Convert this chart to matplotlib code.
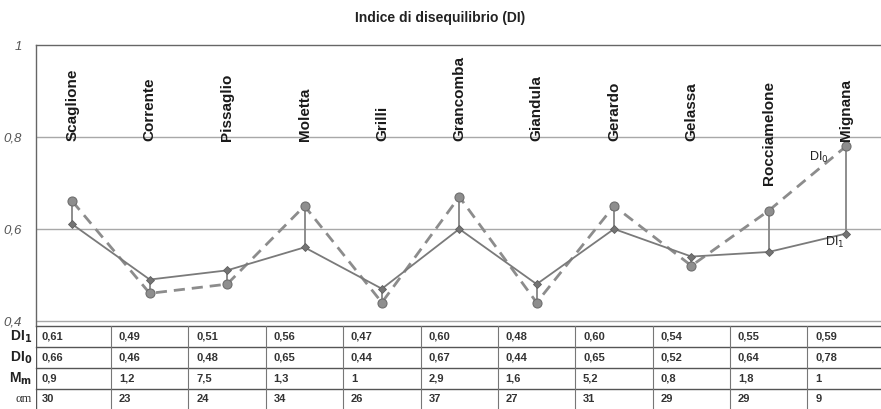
import matplotlib.pyplot as plt

plt.rcParams['font.family'] = ['Liberation Sans', 'DejaVu Sans']

# data
rivers = ["Scaglione", "Corrente", "Pissaglio", "Moletta", "Grilli", "Grancomba",
          "Giandula", "Gerardo", "Gelassa", "Rocciamelone", "Mignana"]
di1 = [0.61, 0.49, 0.51, 0.56, 0.47, 0.60, 0.48, 0.60, 0.54, 0.55, 0.59]
di0 = [0.66, 0.46, 0.48, 0.65, 0.44, 0.67, 0.44, 0.65, 0.52, 0.64, 0.78]
mm = ["0,9", "1,2", "7,5", "1,3", "1", "2,9", "1,6", "5,2", "0,8", "1,8", "1"]
am = ["30", "23", "24", "34", "26", "37", "27", "31", "29", "29", "9"]

W, H = 881, 409
fig = plt.figure(figsize=(W / 100, H / 100), dpi=100)
fig.patch.set_facecolor("white")

ax = fig.add_axes([36 / W, (H - 326) / H, 845 / W, 281 / H])
ax.set_xlim(-0.47, 10.45)
ax.set_ylim(0.389, 1.0)
x = list(range(len(rivers)))
line_col = "#858585"

# grid
for g in (0.4, 0.6, 0.8):
    ax.axhline(g, color="#a8a8a8", lw=1, zorder=0)

# vertical connectors DI0 -> DI1
for i in x:
    ax.plot([i, i], [di0[i], di1[i]], color=line_col, lw=1.3, zorder=1)

ax.plot(x, di0, color="#8c8c8c", lw=2, ls=(0, (4, 2.5)), zorder=2)
ax.plot(x, di1, color="#7a7a7a", lw=1.3, zorder=2)
ax.plot(x, di0, ls="none", marker="o", ms=6.5, mfc="#8e8e8e", mec="#6e6e6e", mew=0.8, zorder=3)
ax.plot(x, di1, ls="none", marker="D", ms=4, mfc="#747474", mec="#5e5e5e", mew=0.6, zorder=3)

# river names inside the plot
for i, name in enumerate(rivers):
    yb = 0.696 if name == "Rocciamelone" else 0.792
    ax.text(i, yb, name, rotation=90, ha="center", va="bottom",
            fontsize=11, fontweight="bold", color="#1a1a1a")

ax.text(9.65, 0.755, "DI$_0$", fontsize=9, color="#222222", ha="center", va="center")
ax.text(9.85, 0.57, "DI$_1$", fontsize=9, color="#222222", ha="center", va="center")

ax.set_yticks([0.4, 0.6, 0.8, 1.0])
ax.set_yticklabels(["0,4", "0,6", "0,8", "1"], fontstyle="italic", color="#555555", fontsize=9.5)
ax.tick_params(axis="y", length=0, pad=10)
ax.set_xticks([])
for s in ("right", "bottom"):
    ax.spines[s].set_visible(False)
for s in ("left", "top"):
    ax.spines[s].set_color("#666666")
    ax.spines[s].set_linewidth(1)

fig.text(440 / W, 1 - 18 / H, "Indice di disequilibrio (DI)", ha="center", va="center",
         fontsize=10, fontweight="bold", color="#222222")

# table under the chart
tx = fig.add_axes([36 / W, (H - 410) / H, 845 / W, 84 / H])
tx.set_xlim(ax.get_xlim())
tx.set_ylim(4, 0)
tx.axis("off")
rows = [[f"{v:.2f}".replace(".", ",") for v in di1],
        [f"{v:.2f}".replace(".", ",") for v in di0],
        mm, am]
for r in range(5):
    tx.axhline(r, color="#555555", lw=1, clip_on=False)
tx.axvline(-0.47, color="#555555", lw=1)
for i in x[:-1]:
    tx.axvline(i + 0.5, color="#777777", lw=0.8)
for r, vals in enumerate(rows):
    for i, v in enumerate(vals):
        tx.text(i - 0.4, r + 0.5, v, ha="left", va="center", fontsize=8,
                fontweight="bold", color="#333333")

labels = ["DI$_\\mathbf{1}$", "DI$_\\mathbf{0}$", "M$_\\mathbf{m}$"]
for r, lab in enumerate(labels):
    tx.text(-0.52, r + 0.5, lab, ha="right", va="center", fontsize=10,
            fontweight="bold", color="#222222", clip_on=False)
tx.text(-0.52, 3.5, "\u03b1m", ha="right", va="center", fontsize=9,
        family=["Liberation Serif", "DejaVu Serif"], color="#333333", clip_on=False)

fig.savefig("out.png", dpi=100)
